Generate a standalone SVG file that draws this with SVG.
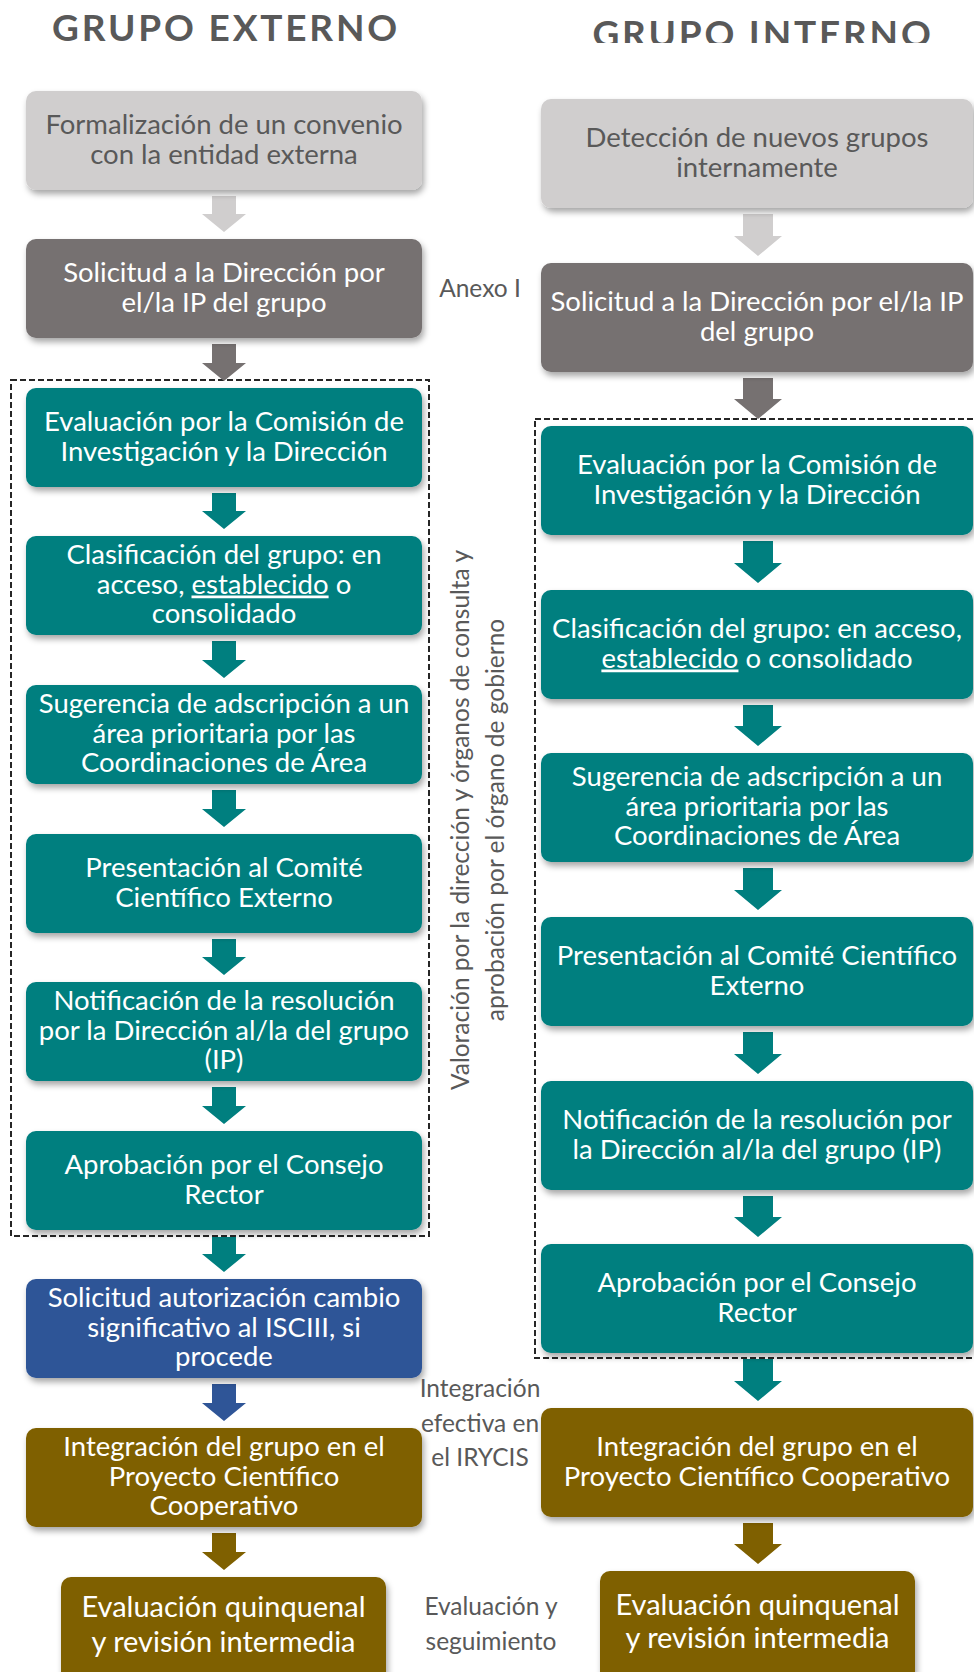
<svg xmlns="http://www.w3.org/2000/svg" width="974" height="1672" viewBox="0 0 974 1672">
<style>
.t{font-family:Lato,"Liberation Sans",sans-serif;font-size:27.5px;text-anchor:middle}
.w{fill:#ffffff}
.g{fill:#595959}
.big{font-size:29px}
.side{font-family:Lato,"Liberation Sans",sans-serif;font-size:24.5px;fill:#595959;text-anchor:middle}
.head{font-family:Lato,"Liberation Sans",sans-serif;font-size:37px;font-weight:bold;fill:#595959;text-anchor:middle;letter-spacing:2.8px}
.lg{fill:#d0cece}
.dg{fill:#767171}
.tl{fill:#007f7f}
.bl{fill:#2f5597}
.ol{fill:#7f6000}
.dash{fill:none;stroke:#262626;stroke-width:2;stroke-dasharray:6 3}
</style>
<defs>
<filter id="sh" x="-10%" y="-10%" width="120%" height="130%">
<feDropShadow dx="2" dy="4" stdDeviation="3" flood-color="#000" flood-opacity="0.35"/>
</filter>
<clipPath id="hc"><rect x="500" y="0" width="474" height="43"/></clipPath>
</defs>

<g id="headings">
<text class="head" x="226" y="41">GRUPO EXTERNO</text>
<text class="head" x="763" y="47" clip-path="url(#hc)">GRUPO INTERNO</text>
</g>

<g id="dashed-frames">
<rect class="dash" x="11" y="380" width="418" height="856"/>
<rect class="dash" x="535" y="419" width="460" height="939"/>
</g>

<g id="connectors">
<polygon class="lg" points="212,196 236,196 236,214 246,214 224,232 202,214 212,214"/>
<polygon class="dg" points="212,344 236,344 236,363 246,363 224,381 202,363 212,363"/>
<polygon class="tl" points="212,493 236,493 236,511 246,511 224,529 202,511 212,511"/>
<polygon class="tl" points="212,641 236,641 236,660 246,660 224,678 202,660 212,660"/>
<polygon class="tl" points="212,790 236,790 236,809 246,809 224,827 202,809 212,809"/>
<polygon class="tl" points="212,939 236,939 236,957 246,957 224,975 202,957 212,957"/>
<polygon class="tl" points="212,1087 236,1087 236,1106 246,1106 224,1124 202,1106 212,1106"/>
<polygon class="tl" points="212,1237 236,1237 236,1254 246,1254 224,1272 202,1254 212,1254"/>
<polygon class="bl" points="212,1384 236,1384 236,1403 246,1403 224,1421 202,1403 212,1403"/>
<polygon class="ol" points="212,1533 236,1533 236,1552 246,1552 224,1570 202,1552 212,1552"/>
<polygon class="lg" points="743,214 773,214 773,236 782,236 758,256 734,236 743,236"/>
<polygon class="dg" points="743,378 773,378 773,399 782,399 758,419 734,399 743,399"/>
<polygon class="tl" points="743,541 773,541 773,563 782,563 758,583 734,563 743,563"/>
<polygon class="tl" points="743,705 773,705 773,726 782,726 758,746 734,726 743,726"/>
<polygon class="tl" points="743,868 773,868 773,890 782,890 758,910 734,890 743,890"/>
<polygon class="tl" points="743,1032 773,1032 773,1054 782,1054 758,1074 734,1054 743,1054"/>
<polygon class="tl" points="743,1196 773,1196 773,1217 782,1217 758,1237 734,1217 743,1217"/>
<polygon class="tl" points="743,1359 773,1359 773,1381 782,1381 758,1401 734,1381 743,1381"/>
<polygon class="ol" points="743,1523 773,1523 773,1544 782,1544 758,1564 734,1544 743,1544"/>
</g>

<g id="ext-formalizacion">
<rect class="lg" x="26" y="91" width="396" height="99" rx="10" filter="url(#sh)"/>
<text class="t g" x="224" y="134">Formalización de un convenio</text>
<text class="t g" x="224" y="163.5">con la entidad externa</text>
</g>
<g id="ext-solicitud">
<rect class="dg" x="26" y="239" width="396" height="99" rx="10" filter="url(#sh)"/>
<text class="t w" x="224" y="282">Solicitud a la Dirección por</text>
<text class="t w" x="224" y="311.5">el/la IP del grupo</text>
</g>
<g id="ext-evaluacion">
<rect class="tl" x="26" y="388" width="396" height="99" rx="10" filter="url(#sh)"/>
<text class="t w" x="224" y="431">Evaluación por la Comisión de</text>
<text class="t w" x="224" y="460.5">Investigación y la Dirección</text>
</g>
<g id="ext-clasificacion">
<rect class="tl" x="26" y="536" width="396" height="99" rx="10" filter="url(#sh)"/>
<text class="t w" x="224" y="564">Clasificación del grupo: en</text>
<text class="t w" x="224" y="593.5">acceso, <tspan text-decoration="underline">establecido</tspan> o</text>
<text class="t w" x="224" y="623">consolidado</text>
</g>
<g id="ext-sugerencia">
<rect class="tl" x="26" y="685" width="396" height="99" rx="10" filter="url(#sh)"/>
<text class="t w" x="224" y="713">Sugerencia de adscripción a un</text>
<text class="t w" x="224" y="742.5">área prioritaria por las</text>
<text class="t w" x="224" y="772">Coordinaciones de Área</text>
</g>
<g id="ext-presentacion">
<rect class="tl" x="26" y="834" width="396" height="99" rx="10" filter="url(#sh)"/>
<text class="t w" x="224" y="877">Presentación al Comité</text>
<text class="t w" x="224" y="906.5">Científico Externo</text>
</g>
<g id="ext-notificacion">
<rect class="tl" x="26" y="982" width="396" height="99" rx="10" filter="url(#sh)"/>
<text class="t w" x="224" y="1010">Notificación de la resolución</text>
<text class="t w" x="224" y="1039.5">por la Dirección al/la del grupo</text>
<text class="t w" x="224" y="1069">(IP)</text>
</g>
<g id="ext-aprobacion">
<rect class="tl" x="26" y="1131" width="396" height="99" rx="10" filter="url(#sh)"/>
<text class="t w" x="224" y="1174">Aprobación por el Consejo</text>
<text class="t w" x="224" y="1203.5">Rector</text>
</g>
<g id="ext-isciii">
<rect class="bl" x="26" y="1279" width="396" height="99" rx="10" filter="url(#sh)"/>
<text class="t w" x="224" y="1307">Solicitud autorización cambio</text>
<text class="t w" x="224" y="1336.5">significativo al ISCIII, si</text>
<text class="t w" x="224" y="1366">procede</text>
</g>
<g id="ext-integracion">
<rect class="ol" x="26" y="1428" width="396" height="99" rx="10" filter="url(#sh)"/>
<text class="t w" x="224" y="1456">Integración del grupo en el</text>
<text class="t w" x="224" y="1485.5">Proyecto Científico</text>
<text class="t w" x="224" y="1515">Cooperativo</text>
</g>
<g id="ext-evaluacion-quinquenal">
<rect class="ol" x="61" y="1577" width="325" height="110" rx="10" filter="url(#sh)"/>
<text class="t w big" x="223.5" y="1617">Evaluación quinquenal</text>
<text class="t w big" x="223.5" y="1652">y revisión intermedia</text>
</g>

<g id="int-deteccion">
<rect class="lg" x="541" y="99" width="432" height="109" rx="10" filter="url(#sh)"/>
<text class="t g" x="757" y="147">Detección de nuevos grupos</text>
<text class="t g" x="757" y="176.5">internamente</text>
</g>
<g id="int-solicitud">
<rect class="dg" x="541" y="263" width="432" height="109" rx="10" filter="url(#sh)"/>
<text class="t w" x="757" y="311">Solicitud a la Dirección por el/la IP</text>
<text class="t w" x="757" y="340.5">del grupo</text>
</g>
<g id="int-evaluacion">
<rect class="tl" x="541" y="426" width="432" height="109" rx="10" filter="url(#sh)"/>
<text class="t w" x="757" y="474">Evaluación por la Comisión de</text>
<text class="t w" x="757" y="503.5">Investigación y la Dirección</text>
</g>
<g id="int-clasificacion">
<rect class="tl" x="541" y="590" width="432" height="109" rx="10" filter="url(#sh)"/>
<text class="t w" x="757" y="638">Clasificación del grupo: en acceso,</text>
<text class="t w" x="757" y="667.5"><tspan text-decoration="underline">establecido</tspan> o consolidado</text>
</g>
<g id="int-sugerencia">
<rect class="tl" x="541" y="753" width="432" height="109" rx="10" filter="url(#sh)"/>
<text class="t w" x="757" y="786">Sugerencia de adscripción a un</text>
<text class="t w" x="757" y="815.5">área prioritaria por las</text>
<text class="t w" x="757" y="845">Coordinaciones de Área</text>
</g>
<g id="int-presentacion">
<rect class="tl" x="541" y="917" width="432" height="109" rx="10" filter="url(#sh)"/>
<text class="t w" x="757" y="965">Presentación al Comité Científico</text>
<text class="t w" x="757" y="994.5">Externo</text>
</g>
<g id="int-notificacion">
<rect class="tl" x="541" y="1081" width="432" height="109" rx="10" filter="url(#sh)"/>
<text class="t w" x="757" y="1129">Notificación de la resolución por</text>
<text class="t w" x="757" y="1158.5">la Dirección al/la del grupo (IP)</text>
</g>
<g id="int-aprobacion">
<rect class="tl" x="541" y="1244" width="432" height="109" rx="10" filter="url(#sh)"/>
<text class="t w" x="757" y="1292">Aprobación por el Consejo</text>
<text class="t w" x="757" y="1321.5">Rector</text>
</g>
<g id="int-integracion">
<rect class="ol" x="541" y="1408" width="432" height="109" rx="10" filter="url(#sh)"/>
<text class="t w" x="757" y="1456">Integración del grupo en el</text>
<text class="t w" x="757" y="1485.5">Proyecto Científico Cooperativo</text>
</g>
<g id="int-evaluacion-quinquenal">
<rect class="ol" x="600" y="1571" width="315" height="115" rx="10" filter="url(#sh)"/>
<text class="t w big" x="757.5" y="1615">Evaluación quinquenal</text>
<text class="t w big" x="757.5" y="1648">y revisión intermedia</text>
</g>

<g id="side-labels">
<text class="side" x="480" y="297">Anexo I</text>
<text class="side" transform="translate(469,820) rotate(-90)">Valoración por la dirección y órganos de consulta y</text>
<text class="side" transform="translate(504,820) rotate(-90)">aprobación por el órgano de gobierno</text>
<text class="side" x="480" y="1397">Integración</text>
<text class="side" x="480" y="1432">efectiva en</text>
<text class="side" x="480" y="1466">el IRYCIS</text>
<text class="side" x="491" y="1615">Evaluación y</text>
<text class="side" x="491" y="1650">seguimiento</text>
</g>
</svg>
